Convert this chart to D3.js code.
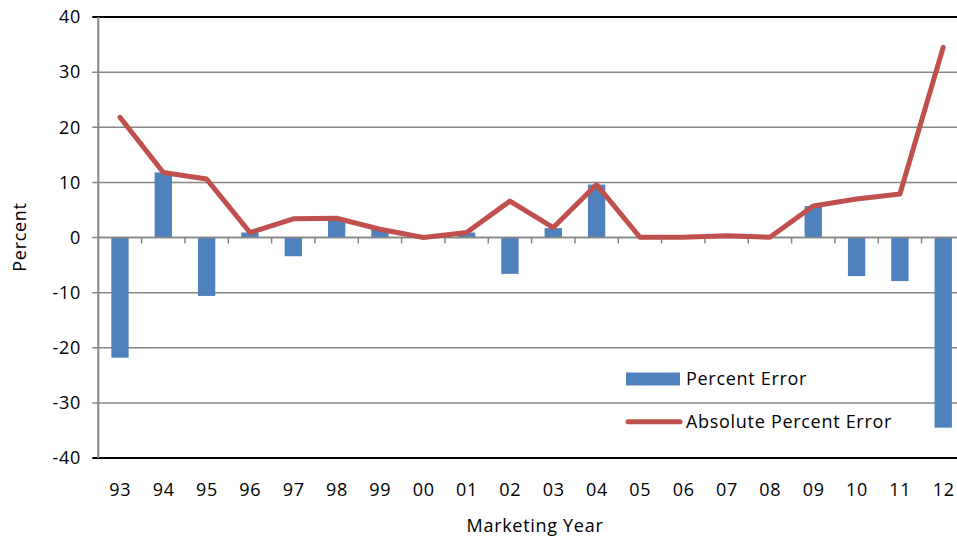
<!DOCTYPE html>
<html><head><meta charset="utf-8">
<script src="https://cdn.jsdelivr.net/npm/d3@7"></script>
<style>body{margin:0;background:#fff;overflow:hidden}svg{display:block}text{font-family:"Open Sans",Lato,sans-serif;fill:#000;letter-spacing:0.7px}</style>
</head><body>
<script>
const years = ["93","94","95","96","97","98","99","00","01","02","03","04","05","06","07","08","09","10","11","12"];
const percentError = [-21.8,11.8,-10.6,0.9,-3.4,3.5,1.5,0.0,0.9,-6.6,1.7,9.6,-0.05,0.05,0.3,-0.05,5.7,-7.0,-7.9,-34.5];
const absPercentError = [21.8,11.8,10.6,0.9,3.4,3.5,1.5,0.0,0.9,6.6,1.8,9.6,0.05,0.05,0.3,0.05,5.7,7.0,7.9,34.5];
const yTicks = [-40,-30,-20,-10,0,10,20,30,40];
const seriesNames = ["Percent Error","Absolute Percent Error"];

const W = 957, H = 541;
const FS = 18;
const svg = d3.select("body").append("svg").attr("width", W).attr("height", H);
const pLeft = 98.3, pTop = 17, pBottom = 458;
const x = d3.scaleBand().domain(years).range([pLeft, pLeft + 20*43.33]).paddingInner(0).paddingOuter(0);
const y = d3.scaleLinear().domain([-40, 40]).range([pBottom, pTop]);

// gridlines
svg.append("g").selectAll("line").data(yTicks).join("line")
  .attr("x1", pLeft - 6).attr("x2", W)
  .attr("y1", d => y(d)).attr("y2", d => y(d))
  .attr("stroke", d => (d === 40 || d === -40) ? "#000" : "#868686")
  .attr("stroke-width", d => (d === 40 || d === -40) ? 2 : 1.5);

// y axis line
svg.append("line").attr("x1", pLeft).attr("x2", pLeft).attr("y1", pTop).attr("y2", pBottom)
  .attr("stroke", "#868686").attr("stroke-width", 2);

// y tick labels
svg.append("g").selectAll("text").data(yTicks).join("text")
  .attr("x", 81).attr("y", d => y(d)).attr("dy", "0.35em")
  .attr("text-anchor", "end").attr("font-size", FS).text(d => d);

// bars
const bw = x.bandwidth() * 0.4;
svg.append("g").selectAll("rect").data(percentError).join("rect")
  .attr("x", (d, i) => x(years[i]) + x.bandwidth()/2 - bw/2)
  .attr("width", bw)
  .attr("y", d => y(Math.max(0, d)))
  .attr("height", d => Math.abs(y(d) - y(0)))
  .attr("fill", "#4F81BD");

// zero axis line + ticks
svg.append("line").attr("x1", pLeft).attr("x2", W).attr("y1", y(0)).attr("y2", y(0))
  .attr("stroke", "#868686").attr("stroke-width", 1.5);
svg.append("g").selectAll("line").data(d3.range(1, 21)).join("line")
  .attr("x1", i => pLeft + i * x.bandwidth()).attr("x2", i => pLeft + i * x.bandwidth())
  .attr("y1", y(0)).attr("y2", y(0) + 6)
  .attr("stroke", "#868686").attr("stroke-width", 1.5);

// line
const line = d3.line().x((d, i) => x(years[i]) + x.bandwidth()/2).y(d => y(d));
svg.append("path").datum(absPercentError).attr("d", line)
  .attr("fill", "none").attr("stroke", "#C0504D").attr("stroke-width", 5)
  .attr("stroke-linejoin", "round").attr("stroke-linecap", "round");

// x labels
svg.append("g").selectAll("text").data(years).join("text")
  .attr("x", d => x(d) + x.bandwidth()/2 + 0.4).attr("y", 490).attr("dy", "0.35em")
  .attr("text-anchor", "middle").attr("font-size", FS).text(d => d);

// axis titles
svg.append("text").attr("x", 535).attr("y", 532).attr("text-anchor", "middle")
  .attr("font-size", FS).text("Marketing Year");
svg.append("text").attr("transform", "translate(26,237) rotate(-90)").attr("text-anchor", "middle")
  .attr("font-size", FS).text("Percent");

// legend
const lg = svg.append("g");
lg.append("rect").attr("x", 626).attr("y", 372.5).attr("width", 54).attr("height", 13).attr("fill", "#4F81BD");
lg.append("text").attr("x", 686).attr("y", 379).attr("dy", "0.35em").attr("font-size", FS).text(seriesNames[0]);
lg.append("line").attr("x1", 628).attr("x2", 680).attr("y1", 421.7).attr("y2", 421.7)
  .attr("stroke", "#C0504D").attr("stroke-width", 5).attr("stroke-linecap", "round");
lg.append("text").attr("x", 686).attr("y", 421.7).attr("dy", "0.35em").attr("font-size", FS).text(seriesNames[1]);
</script>
</body></html>
